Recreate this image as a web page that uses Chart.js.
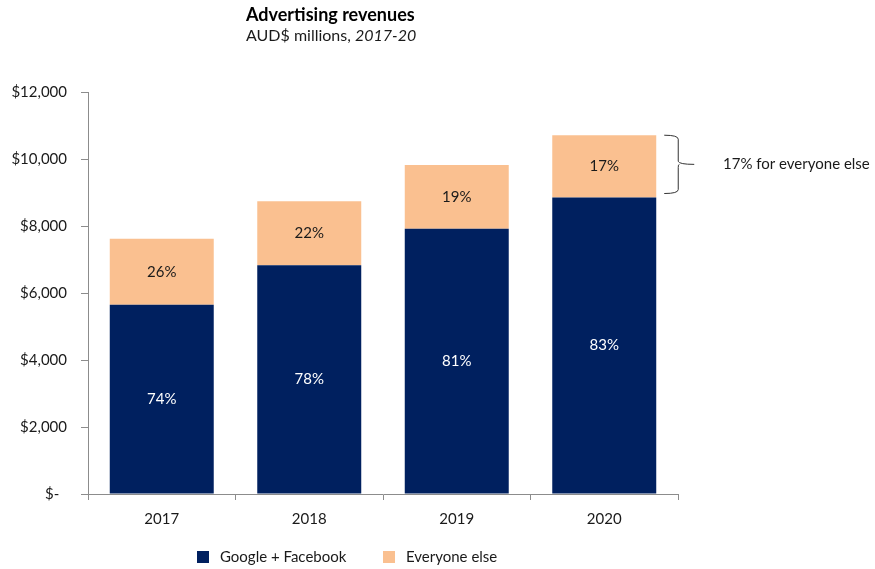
<!DOCTYPE html>
<html>
<head>
<meta charset="utf-8">
<script src="https://cdn.jsdelivr.net/npm/chart.js@4.4.0/dist/chart.umd.min.js"></script>
<style>
html,body{margin:0;padding:0;background:#fff;}
#wrap{width:875px;height:569px;position:relative;}
</style>
</head>
<body>
<div id="wrap"><canvas id="c" width="875" height="569"></canvas></div>
<script>
const categories = ['2017', '2018', '2019', '2020'];
const googleFacebook = [5650, 6830, 7920, 8850];
const everyoneElse = [1970, 1910, 1900, 1860];
const seriesNames = ['Google + Facebook', 'Everyone else'];
const yTicks = [0, 2000, 4000, 6000, 8000, 10000, 12000];
const titleText = 'Advertising revenues';
const subtitleText = 'AUD$ millions, ';
const subtitleItalic = '2017-20';
const annotationText = '17% for everyone else';

const NAVY = '#00205F';
const PEACH = '#FAC090';
const AXIS = '#8C8C8C';
const TXT = '#1a1a1a';
const FONT = 'Lato, "Open Sans", sans-serif';

const totals = categories.map((_, i) => googleFacebook[i] + everyoneElse[i]);

const overlay = {
  id: 'overlay',
  afterDatasetsDraw(chart) {
    const ctx = chart.ctx;
    const y = chart.scales.y;
    ctx.save();
    // data labels
    ctx.textAlign = 'center';
    ctx.textBaseline = 'middle';
    ctx.font = '15px ' + FONT;
    chart.data.datasets.forEach((ds, di) => {
      const meta = chart.getDatasetMeta(di);
      meta.data.forEach((bar, i) => {
        const pct = Math.round(ds.data[i] / totals[i] * 100) + '%';
        const cy = (bar.y + bar.base) / 2;
        ctx.fillStyle = di === 0 ? '#ffffff' : TXT;
        ctx.fillText(pct, bar.x, cy);
      });
    });
    // title
    ctx.textAlign = 'left';
    ctx.textBaseline = 'alphabetic';
    ctx.fillStyle = '#000';
    ctx.font = 'bold 18px ' + FONT;
    ctx.fillText(titleText, 246, 21);
    ctx.font = '16px ' + FONT;
    ctx.fillStyle = TXT;
    ctx.fillText(subtitleText, 246, 41);
    const w = ctx.measureText(subtitleText).width;
    ctx.font = 'italic 16px ' + FONT;
    ctx.fillText(subtitleItalic, 246 + w, 41);
    // bracket annotation on last bar
    const last = categories.length - 1;
    const topY = y.getPixelForValue(totals[last]);
    const botY = y.getPixelForValue(googleFacebook[last]) - 4;
    const midY = (topY + botY) / 2;
    const bar = chart.getDatasetMeta(1).data[last];
    const x0 = bar.x + bar.width / 2 + 8;
    const xv = x0 + 14;
    ctx.strokeStyle = '#333';
    ctx.lineWidth = 1;
    ctx.beginPath();
    ctx.moveTo(x0, topY);
    ctx.quadraticCurveTo(xv, topY, xv, topY + 4);
    ctx.lineTo(xv, midY - 3);
    ctx.quadraticCurveTo(xv + 1, midY, xv + 16, midY);
    ctx.moveTo(xv + 1, midY);
    ctx.quadraticCurveTo(xv, midY, xv, midY + 3);
    ctx.lineTo(xv, botY - 4);
    ctx.quadraticCurveTo(xv, botY, x0, botY);
    ctx.stroke();
    ctx.fillStyle = TXT;
    ctx.font = '15px ' + FONT;
    ctx.textBaseline = 'middle';
    ctx.fillText(annotationText, 723, midY);
    // legend
    const lx = [197, 383];
    [NAVY, PEACH].forEach((c, i) => {
      ctx.fillStyle = c;
      ctx.fillRect(lx[i], 551, 12, 12);
      ctx.fillStyle = TXT;
      ctx.font = '15px ' + FONT;
      ctx.textBaseline = 'middle';
      ctx.fillText(seriesNames[i], lx[i] + 23, 557);
    });
    ctx.restore();
  }
};

new Chart(document.getElementById('c'), {
  type: 'bar',
  data: {
    labels: categories,
    datasets: [
      { label: seriesNames[0], data: googleFacebook, backgroundColor: NAVY },
      { label: seriesNames[1], data: everyoneElse, backgroundColor: PEACH }
    ]
  },
  options: {
    responsive: false,
    animation: false,
    devicePixelRatio: 1,
    layout: { padding: { left: 0, right: 197, top: 92, bottom: 35 } },
    plugins: { legend: { display: false }, tooltip: { enabled: false }, title: { display: false } },
    datasets: { bar: { categoryPercentage: 1, barPercentage: 0.705 } },
    scales: {
      x: {
        stacked: true,
        grid: { display: true, drawOnChartArea: false, offset: true, tickLength: 6, color: AXIS },
        border: { display: true, color: AXIS },
        ticks: { color: TXT, font: { family: FONT, size: 15 }, padding: 10 },
        afterFit(s) { s.height = 40; }
      },
      y: {
        stacked: true,
        min: 0, max: 12000,
        afterBuildTicks(s) { s.ticks = yTicks.map(v => ({ value: v })); },
        grid: { display: true, drawOnChartArea: false, tickLength: 7, color: AXIS },
        border: { display: true, color: AXIS },
        ticks: {
          color: TXT, font: { family: FONT, size: 15 }, padding: 14,
          callback: v => v === 0 ? '$-  ' : '$' + v.toLocaleString('en-US')
        },
        afterFit(s) { s.width = 88; }
      }
    }
  },
  plugins: [overlay]
});
</script>
</body>
</html>
